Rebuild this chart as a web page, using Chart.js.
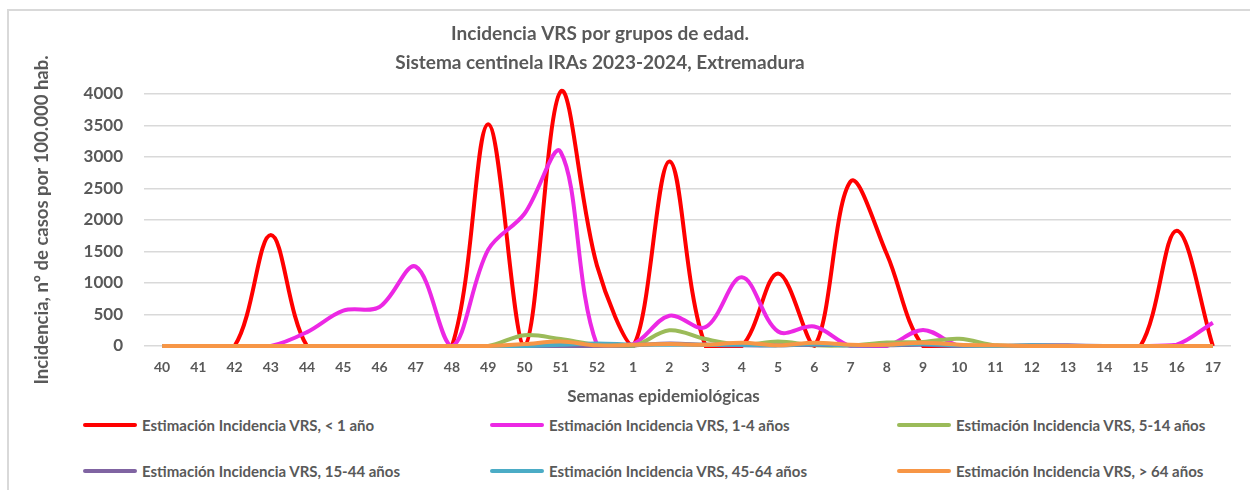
<!DOCTYPE html>
<html lang="es">
<head>
<meta charset="utf-8">
<title>Incidencia VRS por grupos de edad</title>
<script src="https://cdn.jsdelivr.net/npm/chart.js@4.4.1/dist/chart.umd.min.js"></script>
<style>
  html, body { margin: 0; padding: 0; background: #fff; }
  body { width: 1250px; height: 490px; overflow: hidden; position: relative; font-family: Lato, "Open Sans", sans-serif; }
  #marco { position: absolute; left: 7px; top: 9px; width: 1400px; height: 600px; border: 2px solid #d9d9d9; box-sizing: border-box; }
  #caja { position: absolute; left: -34px; top: 0; width: 1268px; height: 410px; }
  #tituloX { position: absolute; left: 0; width: 1327px; top: 385px; text-align: center; font-weight: bold; font-size: 17px; color: #595959; }
  .leyenda { position: absolute; display: flex; align-items: center; font-weight: bold; font-size: 15px; color: #595959; white-space: nowrap; }
  .leyenda span.linea { display: inline-block; width: 54px; height: 4px; border-radius: 2px; margin-right: 5px; }
</style>
</head>
<body>
<div id="marco"></div>
<div id="caja"><canvas id="graficoVRS" width="1268" height="410"></canvas></div>
<div id="tituloX">Semanas epidemiológicas</div>
<div id="leyendas"></div>

<script>
// Semanas epidemiológicas (temporada 2023-2024)
const semanas = ['40', '41', '42', '43', '44', '45', '46', '47', '48', '49', '50', '51', '52',
  '1', '2', '3', '4', '5', '6', '7', '8', '9', '10', '11', '12', '13', '14', '15', '16', '17'];

// Incidencia estimada por 100.000 hab.
const menor1 = [0, 0, 0, 1760, 0, 0, 0, 0, 0, 3520, 0, 4040, 1280, 0, 2930, 0, 0, 1150, 0, 2610, 1460, 0, 0, 0, 0, 0, 0, 0, 1830, 0];
const de1a4 = [0, 0, 0, 0, 220, 560, 620, 1260, 0, 1530, 2100, 3080, 20, 30, 480, 300, 1090, 230, 310, 0, 0, 255, 0, 0, 0, 0, 0, 0, 20, 370];
const de5a14 = [0, 0, 0, 0, 0, 0, 0, 0, 0, 0, 170, 110, 20, 0, 250, 110, 20, 70, 10, 10, 55, 65, 115, 10, 0, 0, 0, 0, 0, 0];
const de15a44 = [0, 0, 0, 0, 0, 0, 0, 0, 0, 0, 0, 0, 0, 10, 40, 20, 10, 10, 20, 10, 10, 20, 0, 0, 10, 10, 0, 0, 0, 0];
const de45a64 = [0, 0, 0, 0, 0, 0, 0, 0, 0, 0, 0, 20, 40, 20, 20, 20, 20, 10, 30, 10, 20, 30, 10, 0, 10, 0, 0, 0, 0, 0];
const mayor64 = [0, 0, 0, 0, 0, 0, 0, 0, 0, 0, 30, 70, 10, 20, 30, 20, 50, 10, 50, 20, 20, 50, 20, 10, 0, 0, 0, 0, 0, 0];

const series = [
  { nombre: 'Estimación Incidencia VRS, < 1 año', datos: menor1, color: '#FF0000' },
  { nombre: 'Estimación Incidencia VRS, 1-4 años', datos: de1a4, color: '#EC28E4' },
  { nombre: 'Estimación Incidencia VRS, 5-14 años', datos: de5a14, color: '#9BBB59' },
  { nombre: 'Estimación Incidencia VRS, 15-44 años', datos: de15a44, color: '#8064A2' },
  { nombre: 'Estimación Incidencia VRS, 45-64 años', datos: de45a64, color: '#4BACC6' },
  { nombre: 'Estimación Incidencia VRS, > 64 años', datos: mayor64, color: '#F79646' }
];

const gris = '#595959';

// Leyenda en HTML: tres columnas, dos filas
function crearLeyenda() {
  const cont = document.getElementById('leyendas');
  const colX = [83, 490, 897];
  const filaY = [416, 462];
  series.forEach((s, i) => {
    const el = document.createElement('div');
    el.className = 'leyenda';
    el.style.left = colX[i % 3] + 'px';
    el.style.top = filaY[Math.floor(i / 3)] + 'px';
    el.innerHTML = '<span class="linea" style="background:' + s.color + '"></span>' + s.nombre;
    cont.appendChild(el);
  });
}

function crearGrafico() {
  const ctx = document.getElementById('graficoVRS').getContext('2d');

  new Chart(ctx, {
    type: 'line',
    data: {
      labels: semanas,
      datasets: series.map((s, i) => ({
        label: s.nombre,
        data: s.datos,
        borderColor: s.color,
        backgroundColor: s.color,
        borderWidth: 4,
        pointRadius: 0,
        tension: 0.35,
        clip: false,
        order: series.length - i
      }))
    },
    options: {
      responsive: false,
      animation: false,
      layout: { padding: 0 },
      plugins: {
        legend: { display: false },
        tooltip: { enabled: false },
        title: {
          display: true,
          text: ['Incidencia VRS por grupos de edad.', 'Sistema centinela IRAs 2023-2024, Extremadura'],
          color: gris,
          font: { family: 'Lato', size: 19, weight: 'bold', lineHeight: 1.5 },
          padding: { top: 20, bottom: 17 }
        }
      },
      scales: {
        x: {
          offset: true,
          grid: { display: false, drawTicks: false },
          border: { display: false },
          ticks: {
            color: gris,
            padding: 13,
            maxRotation: 0,
            autoSkip: false,
            font: { family: 'Lato', size: 14, weight: 'bold' }
          },
          afterFit: (escala) => { escala.height = 64; }
        },
        y: {
          min: 0,
          max: 4000,
          grid: { color: '#d9d9d9', lineWidth: 1.5, drawTicks: false },
          border: { display: false },
          ticks: {
            stepSize: 500,
            color: gris,
            padding: 21,
            font: { family: 'Lato', size: 17, weight: 'bold' },
            callback: (valor) => String(valor)
          },
          title: {
            display: true,
            text: 'Incidencia, nº de casos por 100.000 hab.',
            color: gris,
            font: { family: 'Lato', size: 18.5, weight: 'bold' },
            padding: { top: 65, bottom: 4 }
          },
          afterFit: (escala) => { escala.width = 178; }
        }
      }
    }
  });
}

window.addEventListener('DOMContentLoaded', () => {
  crearLeyenda();
  crearGrafico();
});
</script>
</body>
</html>
